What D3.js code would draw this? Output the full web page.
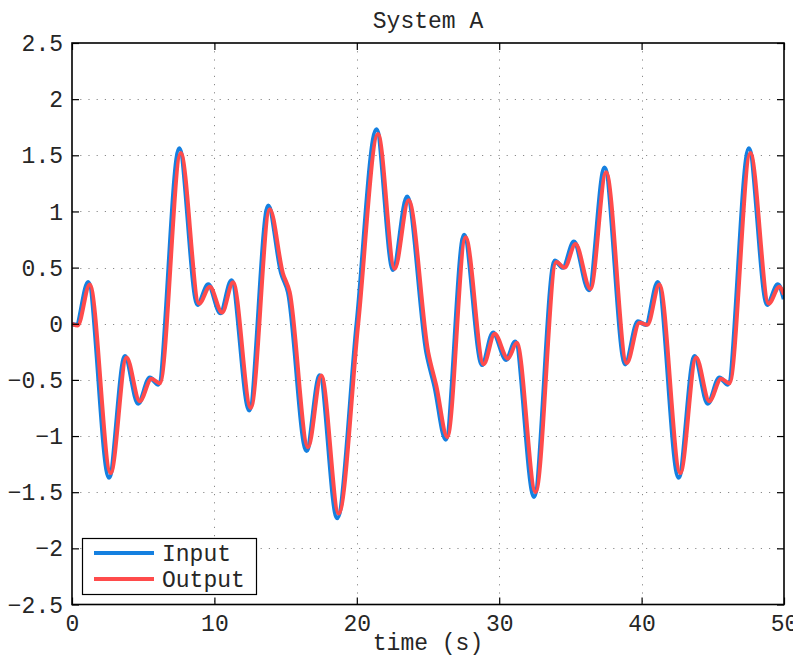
<!DOCTYPE html>
<html>
<head>
<meta charset="utf-8">
<script src="https://cdn.jsdelivr.net/npm/d3@7"></script>
<style>
  html, body { margin: 0; padding: 0; background: #fff; }
  svg { display: block; }
  text { font-family: "Courier New", "Liberation Mono", monospace; fill: #262626; }
</style>
</head>
<body>
<svg id="chart" width="793" height="658"></svg>
<script>
// ---- data ----
const title = "System A";
const xLabel = "time (s)";
const seriesNames = ["Input", "Output"];
const xTicks = [0, 10, 20, 30, 40, 50];
const yTicks = [-2.5, -2, -1.5, -1, -0.5, 0, 0.5, 1, 1.5, 2, 2.5];
const yTickLabels = ["\u22122.5", "\u22122", "\u22121.5", "\u22121", "\u22120.5", "0", "0.5", "1", "1.5", "2", "2.5"];

const inputT = [0, 0.3, 1.14, 2.6, 3.72, 4.65, 5.47, 6.06, 7.53, 8.82, 9.57, 10.43, 11.2, 12.45, 13.78, 14.7, 15.18, 16.47, 17.4, 18.62, 20.0, 21.38, 22.55, 23.53, 24.9, 25.47, 26.25, 27.53, 28.8, 29.57, 30.5, 31.13, 32.45, 33.9, 34.48, 35.25, 36.3, 37.4, 38.85, 39.74, 40.3, 41.14, 42.6, 43.72, 44.65, 45.47, 46.06, 47.53, 48.82, 49.57, 50];
const inputV = [0, -0.01, 0.37, -1.37, -0.29, -0.71, -0.48, -0.54, 1.56, 0.17, 0.35, 0.095, 0.385, -0.77, 1.05, 0.45, 0.28, -1.13, -0.46, -1.73, 0.0, 1.73, 0.48, 1.13, -0.26, -0.56, -1.03, 0.79, -0.365, -0.08, -0.32, -0.16, -1.54, 0.56, 0.5, 0.73, 0.3, 1.39, -0.36, 0.02, -0.01, 0.37, -1.37, -0.29, -0.71, -0.48, -0.54, 1.56, 0.17, 0.35, 0.22];

const outputT = [0, 0.4, 1.25, 2.72, 3.83, 4.76, 5.58, 6.17, 7.64, 8.93, 9.68, 10.54, 11.31, 12.56, 13.89, 14.81, 15.29, 16.58, 17.51, 18.73, 20.1, 21.49, 22.66, 23.64, 25.01, 25.58, 26.36, 27.64, 28.91, 29.68, 30.61, 31.24, 32.56, 34.01, 34.59, 35.36, 36.41, 37.51, 38.96, 39.85, 40.41, 41.25, 42.72, 43.83, 44.76, 45.58, 46.17, 47.64, 48.93, 49.68, 50];
const outputV = [0, -0.015, 0.35, -1.33, -0.30, -0.69, -0.49, -0.53, 1.52, 0.18, 0.33, 0.10, 0.37, -0.75, 1.02, 0.45, 0.28, -1.10, -0.46, -1.69, 0.0, 1.69, 0.49, 1.10, -0.25, -0.55, -1.01, 0.77, -0.36, -0.09, -0.31, -0.17, -1.50, 0.55, 0.50, 0.71, 0.31, 1.35, -0.35, 0.01, -0.01, 0.35, -1.33, -0.30, -0.69, -0.49, -0.53, 1.52, 0.18, 0.33, 0.26];

const colors = ["#1580e0", "#ff4b4b"];

// ---- layout ----
const svg = d3.select("#chart");
const L = 72, R = 784, T = 43, B = 604.5;
const x = d3.scaleLinear().domain([0, 50]).range([L, R]);
const y = d3.scaleLinear().domain([-2.5, 2.5]).range([B, T]);

svg.append("defs").append("clipPath").attr("id", "clip")
  .append("rect").attr("x", L).attr("y", T).attr("width", R - L).attr("height", B - T);

// grid
const grid = svg.append("g").attr("stroke", "#8a8a8a").attr("stroke-width", 1).attr("stroke-dasharray", "1.2,7");
grid.selectAll("line.vx").data(xTicks.slice(1, -1)).join("line")
  .attr("x1", d => Math.round(x(d)) + 0.5).attr("x2", d => Math.round(x(d)) + 0.5)
  .attr("y1", T).attr("y2", B);
grid.selectAll("line.hy").data(yTicks.slice(1, -1)).join("line")
  .attr("y1", d => Math.round(y(d)) + 0.5).attr("y2", d => Math.round(y(d)) + 0.5)
  .attr("x1", L).attr("x2", R);

// lines
const line = d3.line().curve(d3.curveMonotoneX).x(d => x(d[0])).y(d => y(d[1]));
const inputData = inputT.map((t, i) => [t, inputV[i]]);
const outputData = outputT.map((t, i) => [t, outputV[i]]);
const plot = svg.append("g").attr("clip-path", "url(#clip)");
plot.append("path").datum(inputData).attr("d", line)
  .attr("fill", "none").attr("stroke", colors[0]).attr("stroke-width", 4.5).attr("stroke-linejoin", "round");
plot.append("path").datum(outputData).attr("d", line)
  .attr("fill", "none").attr("stroke", colors[1]).attr("stroke-width", 4).attr("stroke-linejoin", "round");

// axes (box with inward ticks)
const tickLen = 7;
const axisFont = "23px";
const gx = svg.append("g").attr("transform", `translate(0,${B})`)
  .call(d3.axisBottom(x).tickValues(xTicks).tickSizeInner(-tickLen).tickSizeOuter(0).tickPadding(10).tickFormat(d3.format("d")));
const gxt = svg.append("g").attr("transform", `translate(0,${T})`)
  .call(d3.axisTop(x).tickValues(xTicks).tickSizeInner(-tickLen).tickSizeOuter(0).tickFormat(""));
const gy = svg.append("g").attr("transform", `translate(${L},0)`)
  .call(d3.axisLeft(y).tickValues(yTicks).tickSizeInner(-tickLen).tickSizeOuter(0).tickPadding(9).tickFormat((d, i) => yTickLabels[i]));
const gyr = svg.append("g").attr("transform", `translate(${R},0)`)
  .call(d3.axisRight(y).tickValues(yTicks).tickSizeInner(-tickLen).tickSizeOuter(0).tickFormat(""));
[gx, gxt, gy, gyr].forEach(g => {
  g.select(".domain").remove();
  g.selectAll(".tick line").attr("stroke", "#000").attr("stroke-width", 1.2);
  g.selectAll("text").attr("font-size", axisFont).attr("fill", "#262626")
    .style("font-family", '"Courier New", "Liberation Mono", monospace');
});
gx.selectAll("text").attr("dy", "0.71em").attr("y", 10);
gy.selectAll("text").attr("dy", "0.33em");

svg.append("rect").attr("x", L).attr("y", T).attr("width", R - L).attr("height", B - T)
  .attr("fill", "none").attr("stroke", "#000").attr("stroke-width", 1.6);

// title & label
svg.append("text").attr("x", (L + R) / 2).attr("y", 28).attr("text-anchor", "middle")
  .attr("font-size", "23px").text(title);
svg.append("text").attr("x", (L + R) / 2).attr("y", 650).attr("text-anchor", "middle")
  .attr("font-size", "23px").text(xLabel);

// legend
const lg = svg.append("g");
lg.append("rect").attr("x", 82.5).attr("y", 538.5).attr("width", 174).attr("height", 56)
  .attr("fill", "#fff").attr("stroke", "#000").attr("stroke-width", 1.2);
seriesNames.forEach((name, i) => {
  const yy = 553 + i * 26;
  lg.append("line").attr("x1", 94).attr("x2", 154).attr("y1", yy).attr("y2", yy)
    .attr("stroke", colors[i]).attr("stroke-width", 4);
  lg.append("text").attr("x", 162).attr("y", yy + 8).attr("font-size", "23px").text(name);
});
</script>
</body>
</html>
